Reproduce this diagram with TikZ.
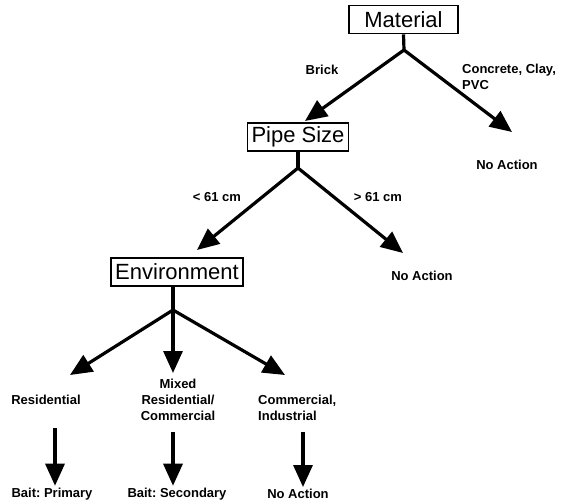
\documentclass[tikz,border=0pt]{standalone}
\usepackage{fontspec}
\setmainfont{Liberation Sans}
\usetikzlibrary{arrows.meta}
\frenchspacing

\begin{document}
\begin{tikzpicture}[x=1pt, y=-1pt,
  box/.style={draw, line width=1.6pt, inner xsep=4pt, inner ysep=0pt,
    minimum height=28pt, font=\fontsize{22}{24}\selectfont},
  lab/.style={font=\fontsize{13}{16}\selectfont\bfseries, inner sep=0pt},
  arr/.style={line width=3.2pt, -{Triangle[length=22pt,width=19pt]}},
  stem/.style={line width=3.2pt}]
  \useasboundingbox (0,0) rectangle (567,503);

  % boxes
  \node[box, minimum width=109pt] (material) at (403.5,19.5) {Material};
  \node[box] (pipe) at (298,137) {Pipe Size};
  \node[box] (env) at (177,272) {Environment};

  % branch points and arrow tips
  \coordinate (mbr) at (404,50);
  \coordinate (pbr) at (298,168);
  \coordinate (ebr) at (173,310);
  \coordinate (mtipl) at (305,121);
  \coordinate (mtipr) at (512,132);
  \coordinate (ptipl) at (197,250);
  \coordinate (ptipr) at (403,253);
  \coordinate (etipl) at (70,375);
  \coordinate (etipm) at (173,373);
  \coordinate (etipr) at (285,375);

  \draw[stem] (material.south) -- (mbr);
  \draw[arr] (mbr) -- (mtipl);
  \draw[arr] (mbr) -- (mtipr);
  \draw[stem] (pipe.south) -- (pbr);
  \draw[arr] (pbr) -- (ptipl);
  \draw[arr] (pbr) -- (ptipr);
  \draw[stem] (ebr |- env.south) -- (ebr);
  \draw[arr] (ebr) -- (etipl);
  \draw[arr] (ebr) -- (etipm);
  \draw[arr] (ebr) -- (etipr);

  % labels
  \node[lab] (brick) at (322,70) {Brick};
  \node[lab, align=left, anchor=north west] (concrete) at (462,64) {Concrete, Clay,\\PVC};
  \node[lab] (noact1) at (507,165) {No Action};
  \node[lab] (lt61) at (217,197) {< 61 cm};
  \node[lab] (gt61) at (378,197) {> 61 cm};
  \node[lab] (noact2) at (422,276) {No Action};
  \node[lab] (resid) at (46,400) {Residential};
  \node[lab, align=center] (mixed) at (178,400) {Mixed\\Residential/\\Commercial};
  \node[lab, align=left, anchor=west] (comm) at (258,408) {Commercial,\\Industrial};
  \node[lab] (bait1) at (52,494) {Bait: Primary};
  \node[lab] (bait2) at (177,494) {Bait: Secondary};
  \node[lab] (noact3) at (298,494) {No Action};

  % down arrows
  \coordinate (d1) at (55,428);
  \coordinate (d2) at (173,432);
  \coordinate (d3) at (303,432);
  \draw[arr] (d1) -- ([yshift=2pt]d1 |- bait1.north);
  \draw[arr] (d2) -- ([yshift=2pt]d2 |- bait2.north);
  \draw[arr] (d3) -- ([yshift=2pt]d3 |- noact3.north);

\end{tikzpicture}
\end{document}
